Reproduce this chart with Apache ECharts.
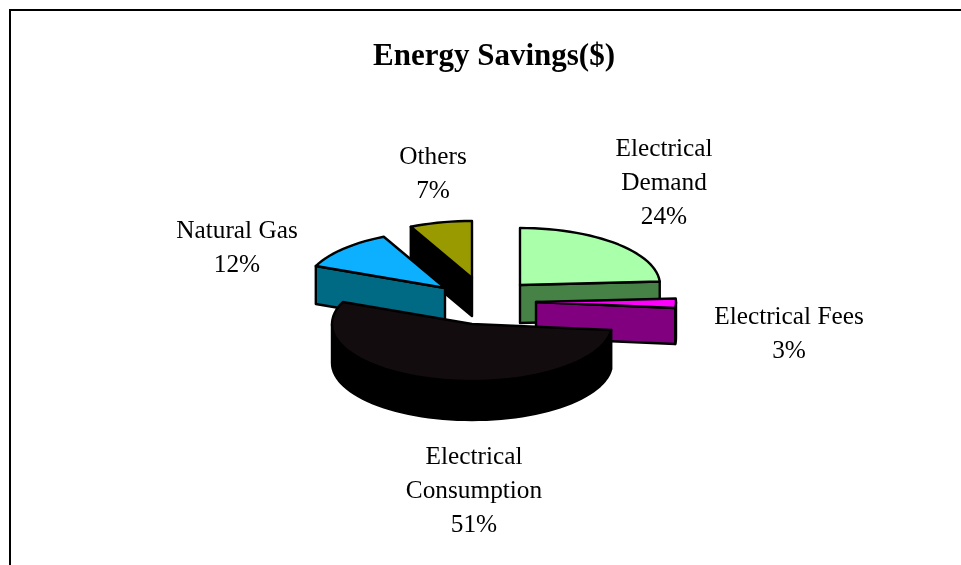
<!DOCTYPE html>
<html>
<head>
<meta charset="utf-8">
<style>html,body{margin:0;padding:0;background:#fff}#c{width:961px;height:565px}</style>
<script src="https://cdn.jsdelivr.net/npm/echarts@6/dist/echarts.min.js"></script>
</head>
<body>
<div id="c"></div>
<script>
var categories = ['Electrical Demand', 'Electrical Fees', 'Electrical Consumption', 'Natural Gas', 'Others'];
var labelLines = [['Electrical', 'Demand'], ['Electrical Fees'], ['Electrical', 'Consumption'], ['Natural Gas'], ['Others']];
// percentages printed on the chart's labels
var percents = [24, 3, 51, 12, 7];
// slice shares as drawn in the picture (the printed labels do not add up to 100)
var values = [24, 2.67, 54.6, 11.5, 7.2];

var topColors = ['#AAFFAA', '#FF00FF', '#130C0E', '#0CB0FF', '#999900'];
var sideColors = ['#468246', '#800080', '#000000', '#006A85', '#000000'];
var centers = [[520, 285], [536, 302], [472, 324], [445, 288], [472, 278]];
var depths = [38, 36, 39, 38, 38];
var labelPos = [[664, 182], [789, 333], [474, 490], [237, 247], [433, 173]];
var drawOrder = [1, 2, 5, 4, 0];
var rx = 140, ry = 57, lineH = 34;

var total = values.reduce(function (a, b) { return a + b; }, 0);
function pt(c, deg, dy) {
  var r = deg * Math.PI / 180;
  return [c[0] + rx * Math.sin(r), c[1] - ry * Math.cos(r) + (dy || 0)];
}
function arc(c, a0, a1, dy) {
  var out = [], n = Math.max(2, Math.ceil((a1 - a0) / 3));
  for (var i = 0; i <= n; i++) out.push(pt(c, a0 + (a1 - a0) * i / n, dy));
  return out;
}
function poly(points, fill, z) {
  return {
    type: 'polygon', z2: z,
    shape: { points: points },
    style: { fill: fill, stroke: '#000', lineWidth: 2.4, lineJoin: 'round' }
  };
}
function renderItem(params, api) {
  var i = params.dataIndex, v = api.value(0);
  var before = 0;
  for (var k = 0; k < i; k++) before += values[k];
  var a0 = before / total * 360, a1 = (before + v) / total * 360;
  var c = centers[i], z = drawOrder[i] * 10, side = sideColors[i], depth = depths[i], kids = [];
  function cut(a) {
    var p = pt(c, a), q = pt(c, a, depth);
    kids.push(poly([[c[0], c[1]], p, q, [c[0], c[1] + depth]], side, z));
  }
  if (a1 < 180) cut(a1);
  if (a0 > 180) cut(a0);
  var r0 = Math.max(a0, 90), r1 = Math.min(a1, 270);
  if (r1 > r0) {
    kids.push(poly(arc(c, r0, r1, 0).concat(arc(c, r0, r1, depth).reverse()), side, z + 1));
  }
  kids.push(poly([[c[0], c[1]]].concat(arc(c, a0, a1, 0)), topColors[i], z + 2));
  var lines = labelLines[i].concat([percents[i] + '%']);
  var lp = labelPos[i];
  lines.forEach(function (t, j) {
    kids.push({
      type: 'text', z2: 100,
      style: {
        x: lp[0], y: lp[1] + 1 + (j - (lines.length - 1) / 2) * lineH,
        text: t, fill: '#000', align: 'center', verticalAlign: 'middle',
        font: '25.3px "Liberation Serif"'
      }
    });
  });
  return { type: 'group', children: kids };
}

var chart = echarts.init(document.getElementById('c'), null, { renderer: 'canvas' });
chart.setOption({
  backgroundColor: '#fff',
  animation: false,
  title: {
    text: 'Energy Savings($)', left: 489, top: 36, textAlign: 'center',
    textStyle: { fontFamily: 'Liberation Serif', fontWeight: 'bold', fontSize: 31, color: '#000' }
  },
  graphic: [
    { type: 'polyline', shape: { points: [[10, 565], [10, 10], [961, 10]] }, style: { stroke: '#000', lineWidth: 2, fill: null } }
  ],
  series: [{
    type: 'custom', coordinateSystem: 'none', renderItem: renderItem,
    data: values.map(function (v, i) { return { name: categories[i], value: [v] }; })
  }]
});
</script>
</body>
</html>
